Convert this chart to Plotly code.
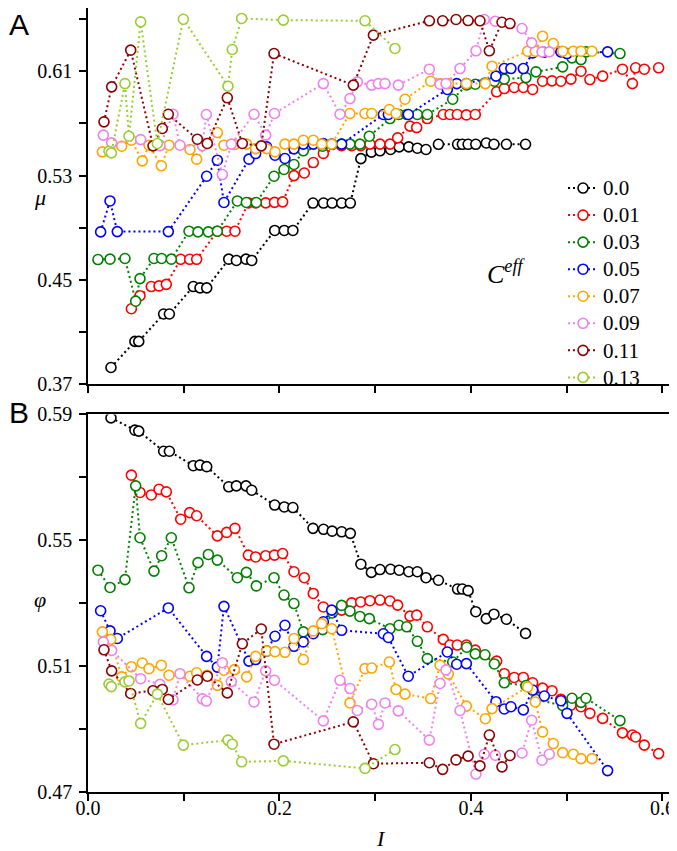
import plotly.graph_objects as go

# ---- data: I, mu (panel A) and phi (panel B) per C_eff ----
I_000 = [0.024, 0.049, 0.053, 0.079, 0.085, 0.110, 0.117, 0.124, 0.147, 0.155, 0.165, 0.171,
         0.195, 0.205, 0.214, 0.235, 0.246, 0.255, 0.265, 0.274, 0.285, 0.296, 0.305, 0.316,
         0.325, 0.335, 0.344, 0.353, 0.366, 0.386, 0.391, 0.397, 0.405, 0.416, 0.424, 0.437, 0.457]
MU_000 = [0.383, 0.403, 0.403, 0.424, 0.424, 0.445, 0.444, 0.444, 0.466, 0.465, 0.466, 0.465,
          0.488, 0.488, 0.488, 0.509, 0.509, 0.509, 0.509, 0.509, 0.543, 0.548, 0.549, 0.550,
          0.552, 0.552, 0.551, 0.550, 0.554, 0.554, 0.554, 0.554, 0.554, 0.555, 0.554, 0.554, 0.554]
PHI_000 = [0.5889, 0.5850, 0.5847, 0.5783, 0.5783, 0.5737, 0.5739, 0.5734, 0.5670, 0.5673, 0.5673, 0.5659,
           0.5612, 0.5606, 0.5604, 0.5538, 0.5535, 0.5529, 0.5527, 0.5522, 0.5424, 0.5398, 0.5407, 0.5408,
           0.5405, 0.5400, 0.5400, 0.5381, 0.5373, 0.5345, 0.5345, 0.5340, 0.5273, 0.5251, 0.5265, 0.5249, 0.5204]

I_001 = [0.0453, 0.0543, 0.0661, 0.0742, 0.0818, 0.0968, 0.1062, 0.1135, 0.1351, 0.1448, 0.1535, 0.1675,
         0.1751, 0.1856, 0.1948, 0.2033, 0.2151, 0.2259, 0.2353, 0.2458, 0.2649, 0.2754, 0.2848, 0.2945,
         0.3050, 0.3154, 0.3234, 0.3363, 0.3433, 0.3544, 0.3711, 0.3781, 0.3857, 0.3952, 0.4045, 0.4268,
         0.4348, 0.4452, 0.4547, 0.4644, 0.4748, 0.4846, 0.4939, 0.5044, 0.5149, 0.5242, 0.5375, 0.5582,
         0.5686, 0.5720, 0.5810, 0.5960]
MU_001 = [0.428, 0.438, 0.445, 0.4455, 0.4467, 0.4659, 0.4659, 0.4659, 0.4874, 0.4874, 0.4874, 0.5091,
          0.5091, 0.5091, 0.5095, 0.5099, 0.530, 0.532, 0.540, 0.547, 0.553, 0.553, 0.553, 0.5541,
          0.5541, 0.5541, 0.5589, 0.5679, 0.5668, 0.5737, 0.5768, 0.5768, 0.5768, 0.5765, 0.5768, 0.5942,
          0.5967, 0.5975, 0.5975, 0.5960, 0.6023, 0.6026, 0.6023, 0.6039, 0.6100, 0.6036, 0.6062, 0.6115,
          0.6005, 0.6126, 0.6115, 0.6126]
PHI_001 = [0.5707, 0.5652, 0.5644, 0.5662, 0.5654, 0.5567, 0.5588, 0.5578, 0.5514, 0.5525, 0.5538, 0.5453,
           0.5447, 0.5451, 0.5453, 0.5458, 0.5400, 0.5381, 0.5331, 0.5288, 0.5278, 0.5301, 0.5304, 0.5308,
           0.5310, 0.5307, 0.5294, 0.5259, 0.5262, 0.5225, 0.5185, 0.5167, 0.5167, 0.5167, 0.5151, 0.5116,
           0.5076, 0.5064, 0.5064, 0.5047, 0.5030, 0.5022, 0.4995, 0.4976, 0.4971, 0.4950, 0.4934, 0.4888,
           0.4881, 0.4875, 0.4849, 0.4822]

I_003 = [0.0104, 0.0230, 0.0386, 0.0498, 0.0543, 0.0689, 0.0769, 0.0870, 0.1055, 0.1149, 0.1257, 0.1351,
         0.1560, 0.1654, 0.1758, 0.1943, 0.2047, 0.2151, 0.2249, 0.2451, 0.2552, 0.2649, 0.2736, 0.2840,
         0.2938, 0.3154, 0.3248, 0.3329, 0.3440, 0.3544, 0.3809, 0.3955, 0.4045, 0.4146, 0.4244, 0.4348,
         0.4574, 0.4679, 0.4957, 0.5055, 0.5149, 0.5201, 0.5556]
MU_003 = [0.4657, 0.4660, 0.4665, 0.4338, 0.4511, 0.4665, 0.4665, 0.4660, 0.4874, 0.4869, 0.4869, 0.4874,
          0.5106, 0.5094, 0.5094, 0.5295, 0.5347, 0.5385, 0.5490, 0.5525, 0.5540, 0.5541, 0.5541, 0.5541,
          0.5602, 0.5737, 0.5768, 0.5768, 0.5768, 0.5768, 0.5885, 0.5995, 0.6000, 0.6010, 0.6023, 0.6039,
          0.6051, 0.6095, 0.6133, 0.6202, 0.6189, 0.6248, 0.6235]
PHI_003 = [0.5405, 0.5350, 0.5375, 0.5673, 0.5508, 0.5402, 0.5451, 0.5508, 0.5349, 0.5429, 0.5455, 0.5437,
           0.5381, 0.5398, 0.5355, 0.5381, 0.5326, 0.5299, 0.5209, 0.5216, 0.5269, 0.5293, 0.5275, 0.5258,
           0.5251, 0.5219, 0.5230, 0.5225, 0.5179, 0.5124, 0.5113, 0.5160, 0.5139, 0.5136, 0.5107, 0.5047,
           0.5038, 0.4994, 0.4975, 0.4998, 0.4985, 0.4998, 0.4927]

I_005 = [0.0132, 0.0230, 0.0306, 0.0839, 0.1239, 0.1351, 0.1420, 0.1681, 0.1751, 0.1866, 0.1953, 0.2057,
         0.2151, 0.2249, 0.2353, 0.2458, 0.2545, 0.2649, 0.3085, 0.3137, 0.3345, 0.3753, 0.3851, 0.3952,
         0.4261, 0.4348, 0.4417, 0.4547, 0.4644, 0.4766, 0.4939, 0.5003, 0.5427]
MU_005 = [0.4869, 0.5106, 0.4871, 0.4871, 0.5295, 0.5418, 0.5094, 0.5426, 0.5469, 0.5520, 0.5456, 0.5431,
          0.5505, 0.5541, 0.5541, 0.5545, 0.5541, 0.5541, 0.5768, 0.5768, 0.5768, 0.5960, 0.6005, 0.6005,
          0.6062, 0.6120, 0.6120, 0.6120, 0.6240, 0.6245, 0.6248, 0.6235, 0.6248]
PHI_005 = [0.5276, 0.5212, 0.5188, 0.5285, 0.5131, 0.5097, 0.5290, 0.5116, 0.5121, 0.5148, 0.5195, 0.5230,
           0.5163, 0.5177, 0.5203, 0.5241, 0.5278, 0.5214, 0.5203, 0.5191, 0.5068, 0.5145, 0.5106, 0.5108,
           0.4987, 0.4964, 0.4971, 0.4961, 0.5024, 0.5005, 0.4990, 0.4950, 0.4768]

I_007 = [0.0150, 0.0237, 0.0352, 0.0453, 0.0567, 0.0637, 0.0766, 0.0846, 0.1065, 0.1135, 0.1246, 0.1351,
         0.1420, 0.1530, 0.1657, 0.1751, 0.1866, 0.1953, 0.2057, 0.2151, 0.2249, 0.2353, 0.2441, 0.2545,
         0.2736, 0.2893, 0.2963, 0.3147, 0.3217, 0.3311, 0.3579, 0.3677, 0.3764, 0.3952, 0.4150, 0.4220,
         0.4592, 0.4672, 0.4748, 0.4860, 0.4958, 0.5069, 0.5149, 0.5264]
MU_007 = [0.5482, 0.5482, 0.5525, 0.5571, 0.5413, 0.5533, 0.5375, 0.5533, 0.5500, 0.5426, 0.5546, 0.5630,
          0.5533, 0.5538, 0.5541, 0.5507, 0.5507, 0.5482, 0.5541, 0.5541, 0.5571, 0.5571, 0.5541, 0.5541,
          0.5776, 0.5776, 0.5776, 0.5806, 0.5776, 0.5885, 0.6023, 0.6005, 0.6005, 0.6005, 0.6005, 0.6138,
          0.6253, 0.6253, 0.6368, 0.6312, 0.6253, 0.6253, 0.6253, 0.6253]
PHI_007 = [0.5209, 0.5185, 0.5066, 0.5098, 0.5110, 0.5092, 0.5103, 0.5071, 0.5068, 0.5079, 0.5071, 0.5039,
           0.5087, 0.5089, 0.5066, 0.5131, 0.5148, 0.5146, 0.5144, 0.5188, 0.5121, 0.5212, 0.5235, 0.5219,
           0.4983, 0.5092, 0.5094, 0.5113, 0.5026, 0.5011, 0.4997, 0.5103, 0.5075, 0.4973, 0.4933, 0.4965,
           0.5034, 0.4986, 0.4891, 0.4854, 0.4825, 0.4820, 0.4806, 0.4806]

I_009 = [0.0160, 0.0247, 0.0550, 0.0752, 0.0888, 0.0961, 0.1194, 0.1236, 0.1403, 0.1497, 0.1734, 0.1856,
         0.1948, 0.2458, 0.2632, 0.2736, 0.2813, 0.2963, 0.3033, 0.3102, 0.3241, 0.3565, 0.3677, 0.3739,
         0.3885, 0.4052, 0.4139, 0.4254, 0.4533, 0.4634, 0.4742, 0.4818]
MU_009 = [0.5610, 0.5551, 0.5576, 0.5530, 0.5770, 0.5533, 0.5530, 0.5768, 0.5308, 0.5541, 0.5770, 0.5610,
          0.5776, 0.6005, 0.5770, 0.5890, 0.6018, 0.5993, 0.6005, 0.6005, 0.5993, 0.6115, 0.6000, 0.6005,
          0.6120, 0.6256, 0.6496, 0.6483, 0.6427, 0.6317, 0.6248, 0.6248]
PHI_009 = [0.5177, 0.5150, 0.5060, 0.5042, 0.4993, 0.5076, 0.4996, 0.4989, 0.5111, 0.5051, 0.4986, 0.5085,
           0.5055, 0.4926, 0.5055, 0.5029, 0.4959, 0.4979, 0.4915, 0.4983, 0.4958, 0.4865, 0.5045, 0.5088,
           0.4959, 0.4757, 0.4820, 0.4817, 0.4824, 0.4928, 0.4801, 0.4820]

I_011 = [0.0167, 0.0247, 0.0446, 0.0679, 0.0776, 0.0839, 0.1142, 0.1246, 0.1455, 0.1612, 0.1810, 0.1943,
         0.2771, 0.2981, 0.3565, 0.3704, 0.3844, 0.3970, 0.4094, 0.4192, 0.4324, 0.4407]
MU_011 = [0.5712, 0.5980, 0.6261, 0.5528, 0.5661, 0.5770, 0.5579, 0.5546, 0.5896, 0.5546, 0.5528, 0.6235,
          0.5993, 0.6376, 0.6486, 0.6486, 0.6496, 0.6488, 0.6486, 0.6256, 0.6475, 0.6465]
PHI_011 = [0.5152, 0.5085, 0.5013, 0.5022, 0.5026, 0.4994, 0.5056, 0.5068, 0.5015, 0.5171, 0.5218, 0.4852,
           0.4923, 0.4790, 0.4793, 0.4772, 0.4802, 0.4814, 0.4783, 0.4881, 0.4780, 0.4816]

I_013 = [0.0219, 0.0244, 0.0386, 0.0428, 0.0550, 0.0724, 0.0996, 0.1462, 0.1507, 0.1605, 0.2040, 0.2893, 0.3206]
MU_013 = [0.5487, 0.5474, 0.6005, 0.5602, 0.6478, 0.5546, 0.6498, 0.5985, 0.6266, 0.6504, 0.6491, 0.6486, 0.6274]
PHI_013 = [0.5043, 0.5035, 0.5050, 0.5053, 0.4918, 0.5011, 0.4849, 0.4865, 0.4852, 0.4796, 0.4799, 0.4775, 0.4835]

LABELS = ["0.0", "0.01", "0.03", "0.05", "0.07", "0.09", "0.11", "0.13"]
COLORS = ["#000000", "#ff0000", "#008000", "#0000ff", "#ffa500", "#ee82ee", "#8b0000", "#9acd32"]
I_ALL = [I_000, I_001, I_003, I_005, I_007, I_009, I_011, I_013]
MU_ALL = [MU_000, MU_001, MU_003, MU_005, MU_007, MU_009, MU_011, MU_013]
PHI_ALL = [PHI_000, PHI_001, PHI_003, PHI_005, PHI_007, PHI_009, PHI_011, PHI_013]

FONT = "Liberation Serif"

fig = go.Figure()
for lab, col, xs, mu, phi in zip(LABELS, COLORS, I_ALL, MU_ALL, PHI_ALL):
    style = dict(
        mode="lines+markers",
        line=dict(color=col, width=2, dash="2px,3px"),
        marker=dict(symbol="circle", size=10, color="white", line=dict(color=col, width=1.6)),
    )
    # legend text enlarged via span; row pitch follows legend.font.size
    fig.add_trace(go.Scatter(x=xs, y=mu, name=f"<span style='font-size:21px'>{lab}</span>",
                             xaxis="x", yaxis="y", **style))
    fig.add_trace(go.Scatter(x=xs, y=phi, name=lab, xaxis="x2", yaxis="y2",
                             showlegend=False, **style))

axis_common = dict(showline=True, linecolor="black", linewidth=1.5, mirror=True,
                   ticks="outside", ticklen=7, tickwidth=1.5, tickcolor="black",
                   showgrid=False, zeroline=False, automargin=False)

x_ticks = [0.0, 0.1, 0.2, 0.3, 0.4, 0.5, 0.6]
x_text = ["0.0", "", "0.2", "", "0.4", "", "0.6"]
mu_ticks = [0.37, 0.41, 0.45, 0.49, 0.53, 0.57, 0.61, 0.65]
mu_text = ["0.37", "", "0.45", "", "0.53", "", "0.61", ""]
phi_ticks = [0.47, 0.49, 0.51, 0.53, 0.55, 0.57, 0.59]
phi_text = ["0.47", "", "0.51", "", "0.55", "", "0.59"]

# the page body adds an 8px offset, so the figure is 8px smaller than the window
fig.update_layout(
    template="none",
    width=669, height=843,
    margin=dict(l=80, r=4, t=0, b=59.3),
    paper_bgcolor="white", plot_bgcolor="white",
    font=dict(family=FONT, size=20, color="black"),
    xaxis=dict(domain=[0, 1], anchor="y", range=[0, 0.611], tickvals=x_ticks,
               ticktext=[""] * len(x_ticks), **axis_common),
    yaxis=dict(domain=[0.5198, 1], anchor="x", range=[0.37, 0.6584], tickvals=mu_ticks,
               ticktext=mu_text, ticklabelstandoff=3, **axis_common),
    xaxis2=dict(domain=[0, 1], anchor="y2", range=[0, 0.611], matches="x", tickvals=x_ticks,
                ticktext=x_text, ticklabelstandoff=-10, **axis_common),
    yaxis2=dict(domain=[0, 0.4816], anchor="x2", range=[0.47, 0.59], tickvals=phi_ticks,
                ticktext=phi_text, ticklabelstandoff=3, **axis_common),
    legend=dict(x=0.812, xanchor="left", y=0.794, yanchor="top", bgcolor="rgba(0,0,0,0)",
                borderwidth=0, font=dict(family=FONT, size=18.5)),
    showlegend=True,
)

def note(text, x, y, size, family=FONT, xanchor="center", yanchor="middle"):
    fig.add_annotation(text=text, xref="paper", yref="paper", x=x, y=y, showarrow=False,
                       xanchor=xanchor, yanchor=yanchor,
                       font=dict(family=family, size=size, color="black"))

note("A", -0.138, 1.003, 30, family="Liberation Sans", xanchor="left", yanchor="top")
note("B", -0.138, 0.5075, 30, family="Liberation Sans", xanchor="left", yanchor="top")
note("<i>C</i><sup><i>eff</i></sup>", 0.750, 0.662, 26, xanchor="right")
note("<i>μ</i>", -0.082, 0.758, 22)
note("<i>φ</i>", -0.082, 0.245, 22)
note("<i>I</i>", 0.50, -0.059, 22)

fig.write_html("out.html")
